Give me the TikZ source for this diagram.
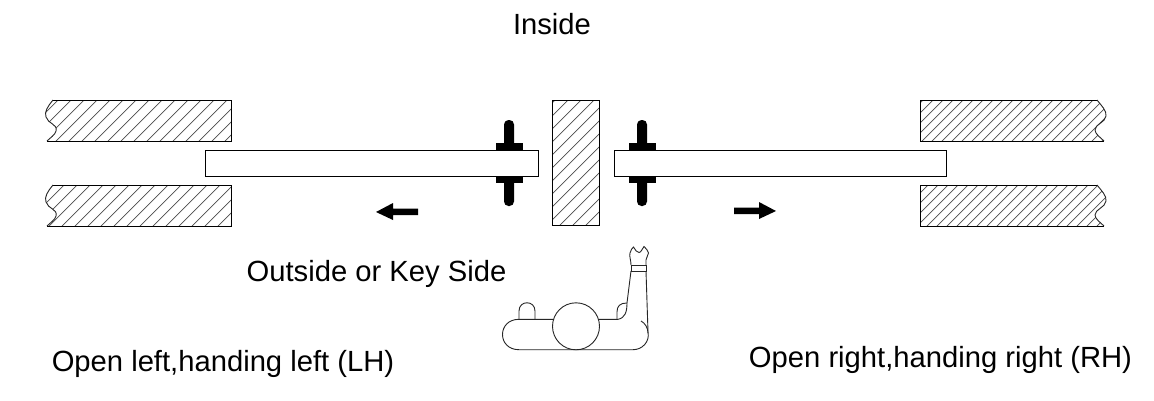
\documentclass[tikz,border=0pt]{standalone}
\usepackage{fontspec}
\setmainfont{Liberation Sans}
\tikzset{
  outl/.style={draw=black,line width=1.0pt,line join=miter},
  hatchline/.style={draw=black!70,line width=0.7pt},
  solidpart/.style={fill=black,draw=none},
  thin outl/.style={draw=black!85,line width=0.9pt},
  lab/.style={font=\fontsize{29.2}{32}\selectfont,inner sep=0pt,text=black}
}
\newcommand{\hatchall}[2]{%
  \foreach \k in {-50,-49,...,130}{\draw[hatchline] (\k*#1+#2,400) -- ++(400,-400);}%
}
\newcommand{\wallL}[1]{(231,#1) -- (53,#1) .. controls (48,#1+6) and (44,#1+12) .. (46,#1+17)
  .. controls (48,#1+24) and (58,#1+24) .. (56,#1+31) .. controls (55,#1+35) and (50,#1+38) .. (47,#1+41) -- (231,#1+41) -- cycle}
\newcommand{\wallR}[1]{(920,#1) -- (1097,#1) .. controls (1101,#1+5) and (1107,#1+11) .. (1106,#1+16)
  .. controls (1105,#1+23) and (1095,#1+24) .. (1095,#1+30) .. controls (1095,#1+34) and (1101,#1+38) .. (1104,#1+41) -- (920,#1+41) -- cycle}
\begin{document}
\begin{tikzpicture}[x=1pt,y=-1pt]
\useasboundingbox (0,0) rectangle (1154,400);
\fill[white] (0,0) rectangle (1154,400);
% walls
\foreach \yy in {100,185}{
  \begin{scope}\clip \wallL{\yy}; \hatchall{13}{5} \end{scope}
  \draw[outl] (231,\yy) -- (53,\yy) (231,\yy) -- (231,\yy+41) -- (47,\yy+41);
  \draw[thin outl] (53,\yy) .. controls (48,\yy+6) and (44,\yy+12) .. (46,\yy+17)
    .. controls (48,\yy+24) and (58,\yy+24) .. (56,\yy+31) .. controls (55,\yy+35) and (50,\yy+38) .. (47,\yy+41);
  \begin{scope}\clip \wallR{\yy}; \hatchall{10}{3} \end{scope}
  \draw[outl] (1097,\yy) -- (920,\yy) -- (920,\yy+41) -- (1104,\yy+41);
  \draw[thin outl] (1097,\yy) .. controls (1101,\yy+5) and (1107,\yy+11) .. (1106,\yy+16)
    .. controls (1105,\yy+23) and (1095,\yy+24) .. (1095,\yy+30) .. controls (1095,\yy+34) and (1101,\yy+38) .. (1104,\yy+41);
}
% mullion
\begin{scope}\clip (552,100) rectangle (599,225); \hatchall{13}{8} \end{scope}
\draw[outl] (552,100) rectangle (599,225);
% hardware
\foreach \cx in {509,642}{
  \fill[solidpart] (\cx-13.5,143) rectangle (\cx+13.5,183);
  \fill[solidpart,rounded corners=4.5pt] (\cx-5,120) rectangle (\cx+5,206);
}
% doors
\node[outl,fill=white,minimum width=333pt,minimum height=26pt,inner sep=0pt,anchor=north west] (doorL) at (205,150) {};
\node[outl,fill=white,minimum width=332pt,minimum height=26pt,inner sep=0pt,anchor=north west] (doorR) at (614,150) {};
% arrows
\fill[solidpart] (376,212) -- (393,203) -- (393,208.5) -- (418,208.5) -- (418,215) -- (393,215) -- (393,220) -- cycle;
\fill[solidpart] (776,211) -- (759,202) -- (759,207.5) -- (734,207.5) -- (734,214) -- (759,214) -- (759,219) -- cycle;
% person
\draw[thin outl] (576,326.3) circle (23.5);
\draw[thin outl] (553,319.3) -- (519,319.3) .. controls (497,319.3) and (497,349.7) .. (519,349.7) -- (633,349.7)
  .. controls (642,349.7) and (650,342) .. (648,332) -- (646,271);
\draw[thin outl] (519,319.3) -- (519,311) .. controls (519,300) and (535,300) .. (535,311) -- (535,319.3);
\draw[thin outl] (599,319.3) -- (618,319.3) .. controls (625,318) and (627,312) .. (627,303) -- (631,271);
\draw[thin outl] (627,303) .. controls (620,303) and (617,306) .. (617,312) -- (617,319.3);
\draw[thin outl] (641,321) .. controls (645,323) and (648,328) .. (648,333);
\draw[thin outl] (631,265) rectangle (646,271);
\draw[thin outl] (631,265) .. controls (631,260) and (629,256) .. (630,253) .. controls (631,250) and (632,248) .. (633.5,247)
  .. controls (635,250) and (637,252.5) .. (639,252.5) .. controls (641,252.5) and (642,249) .. (644,246.5)
  .. controls (646,248) and (648,251) .. (648.5,253) .. controls (648,256) and (646,258) .. (646,260) -- (646,265);
% labels
\node[lab] (inside) at (552,24) {Inside};
\node[lab] (outside) at (376.5,274) {Outside or Key Side};
\node[lab] (lh) at (223,364) {Open left,handing left (LH)};
\node[lab] (rh) at (940.5,360) {Open right,handing right (RH)};
\end{tikzpicture}
\end{document}
